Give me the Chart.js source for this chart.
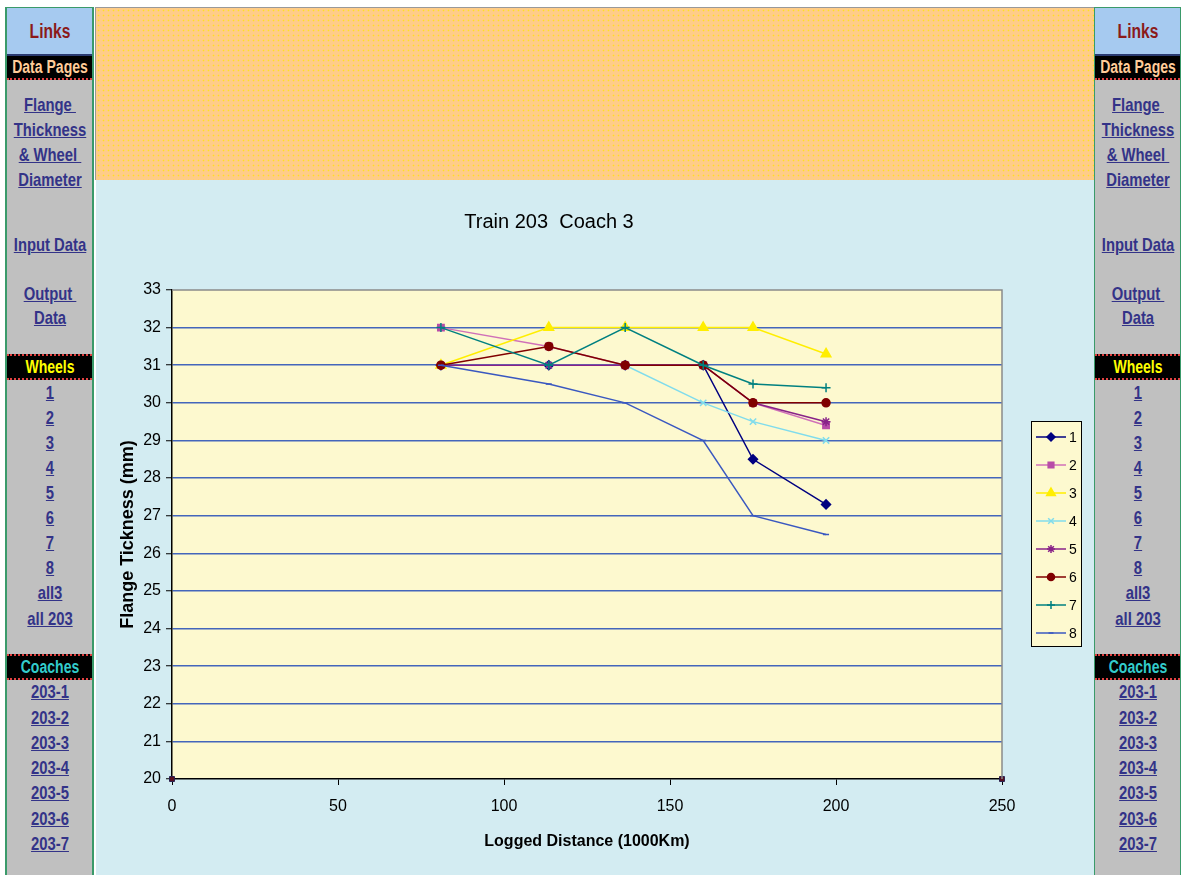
<!DOCTYPE html>
<html>
<head>
<meta charset="utf-8">
<title>Train 203 Coach 3</title>
<script src="https://cdn.jsdelivr.net/npm/chart.js@4.4.1/dist/chart.umd.min.js"></script>
<style>
  body { margin: 0; width: 1181px; height: 875px; overflow: hidden; background: #fff; position: relative;
         font-family: "Liberation Sans", Arial, sans-serif; }
  .side { position: absolute; top: 7px; width: 85px; height: 868px; background: #c0c0c0;
          border: 1px solid #3a9a6a; border-bottom: none; border-left-width: 2px; border-right-width: 2px; }
  #left { left: 5px; }
  #right { left: 1093px; }
  .links, .bar, .lnk { white-space: nowrap; }
  .links span, .bar span, .lnk span { position: absolute; left: 50%; display: inline-block;
         transform: translateX(-50%) scaleX(0.78); }
  .links { position: absolute; left: 0; top: 0; width: 100%; height: 46px; background: #a6caf0;
           border-bottom: 2px solid #2a3a70; color: #8b1a1a; font-weight: bold; font-size: 20px;
           line-height: 46px; }
  .bar { position: absolute; left: 0; width: 100%; height: 22px; background: #000; font-weight: bold;
         font-size: 18px; line-height: 22px; border-bottom: 2px dotted #e04040; }
  .bar.dt { border-top: 2px dotted #e04040; }
  .lnk { position: absolute; left: 0; width: 100%; height: 22px; font-weight: bold; font-size: 19px;
         color: #333388; line-height: 22px; }
  .lnk span { text-decoration: underline; }
  #top { position: absolute; left: 95px; top: 7px; width: 998px; height: 172px; border-top: 1px solid #999;
         border-left: 1px solid #999; background-color: #ffcc88;
         background-image: radial-gradient(#ffe020 0.7px, transparent 1.1px); background-size: 5px 5px; }
  #main { position: absolute; left: 96px; top: 180px; width: 998px; height: 695px; background: #d3ecf2; }
  #chart { position: absolute; left: 0; top: 1px; }
</style>
</head>
<body>
<div class="side" id="left">
  <div class="links"><span>Links</span></div>
  <div class="bar" style="top:48px;color:#ffcc99"><span>Data Pages</span></div>
  <div class="lnk" style="top:86px"><span>Flange&nbsp;</span></div>
  <div class="lnk" style="top:111px"><span>Thickness</span></div>
  <div class="lnk" style="top:136px"><span>&amp; Wheel&nbsp;</span></div>
  <div class="lnk" style="top:161px"><span>Diameter</span></div>
  <div class="lnk" style="top:226px"><span>Input Data</span></div>
  <div class="lnk" style="top:275px"><span>Output&nbsp;</span></div>
  <div class="lnk" style="top:299px"><span>Data</span></div>
  <div class="bar dt" style="top:346px;color:#ffff00"><span>Wheels</span></div>
  <div class="lnk" style="top:374px"><span>1</span></div>
  <div class="lnk" style="top:399px"><span>2</span></div>
  <div class="lnk" style="top:424px"><span>3</span></div>
  <div class="lnk" style="top:449px"><span>4</span></div>
  <div class="lnk" style="top:474px"><span>5</span></div>
  <div class="lnk" style="top:499px"><span>6</span></div>
  <div class="lnk" style="top:524px"><span>7</span></div>
  <div class="lnk" style="top:549px"><span>8</span></div>
  <div class="lnk" style="top:574px"><span>all3</span></div>
  <div class="lnk" style="top:600px"><span>all 203</span></div>
  <div class="bar dt" style="top:646px;color:#33cccc"><span>Coaches</span></div>
  <div class="lnk" style="top:673px"><span>203-1</span></div>
  <div class="lnk" style="top:699px"><span>203-2</span></div>
  <div class="lnk" style="top:724px"><span>203-3</span></div>
  <div class="lnk" style="top:749px"><span>203-4</span></div>
  <div class="lnk" style="top:774px"><span>203-5</span></div>
  <div class="lnk" style="top:800px"><span>203-6</span></div>
  <div class="lnk" style="top:825px"><span>203-7</span></div>
</div>
<div class="side" id="right"></div>
<div id="top"></div>
<div id="main"><canvas id="chart" width="998" height="694"></canvas></div>

<script>
document.getElementById('right').innerHTML = document.getElementById('left').innerHTML;

// Logged distance (1000Km) for each reading
const distance = [81, 113.5, 136.5, 160, 175, 197];

// Flange thickness (mm) per wheel
const wheel1 = [31, 31, 31, 31, 28.5, 27.3];
const wheel2 = [32, 31.5, 31, 31, 30, 29.4];
const wheel3 = [31, 32, 32, 32, 32, 31.3];
const wheel4 = [31, 31, 31, 30, 29.5, 29];
const wheel5 = [31, 31, 31, 31, 30, 29.5];
const wheel6 = [31, 31.5, 31, 31, 30, 30];
const wheel7 = [32, 31, 32, 31, 30.5, 30.4];
const wheel8 = [31, 30.5, 30, 29, 27, 26.5];
const wheelNames = ['1', '2', '3', '4', '5', '6', '7', '8'];

// the two corner markers sitting on the axis
const cornerX = [0, 250];
const cornerY = [20, 20];

const xMin = 0, xMax = 250, xStep = 50;
const yMin = 20, yMax = 33, yStep = 1;

const wheels = [wheel1, wheel2, wheel3, wheel4, wheel5, wheel6, wheel7, wheel8];

const looks = [
    { line: '#000080', fill: '#000080', style: 'rectRot', r: 4.5 },
    { line: '#d070b8', fill: '#b84ca8', style: 'rect', r: 4.5 },
    { line: '#ffee00', fill: '#ffee00', style: 'triangle', r: 5.5 },
    { line: '#80dcec', fill: '#80dcec', style: 'crossRot', r: 4.5 },
    { line: '#882288', fill: '#882288', style: 'star', r: 4.5 },
    { line: '#800000', fill: '#800000', style: 'circle', r: 4 },
    { line: '#008080', fill: '#008080', style: 'cross', r: 4.5 },
    { line: '#3a58c0', fill: '#3a58c0', style: 'line', r: 3 }
];

const sans = "'Liberation Sans', Arial, sans-serif";
Chart.defaults.font.family = sans;
Chart.defaults.color = '#000';

const datasets = wheels.map((vals, i) => ({
    label: wheelNames[i],
    data: vals.map((v, j) => ({ x: distance[j], y: v })),
    borderColor: looks[i].line,
    backgroundColor: looks[i].fill,
    pointBorderColor: looks[i].fill,
    pointBackgroundColor: looks[i].fill,
    pointStyle: looks[i].style,
    pointRadius: looks[i].r,
    pointBorderWidth: 1.5,
    borderWidth: 1.5,
    tension: 0,
    order: wheels.length - i   // later wheels drawn on top, like the sheet
}));

datasets.push({
    label: '',
    data: cornerX.map((x, j) => ({ x: x, y: cornerY[j] })),
    showLine: false,
    pointStyle: 'rect',
    pointRadius: 3.5,
    pointBackgroundColor: '#5a1020',
    pointBorderColor: '#2a2050',
    pointBorderWidth: 1,
    clip: false,
    order: 0,
    hideInLegend: true
});

// plot area fill, grey top/right frame and the boxed legend
const sheetLook = {
    id: 'sheetLook',
    beforeDraw(chart) {
        const { ctx, chartArea: a } = chart;
        ctx.save();
        ctx.fillStyle = '#fdf9cf';
        ctx.fillRect(a.left, a.top, a.right - a.left, a.bottom - a.top);
        ctx.restore();
    },
    afterDatasetsDraw(chart) {
        const { ctx, chartArea: a } = chart;
        ctx.save();
        ctx.strokeStyle = '#8a8a8a';
        ctx.lineWidth = 1.5;
        ctx.beginPath();
        ctx.moveTo(a.left, a.top);
        ctx.lineTo(a.right, a.top);
        ctx.lineTo(a.right, a.bottom);
        ctx.stroke();
        ctx.restore();
    },
    afterDraw(chart) {
        const { ctx, chartArea: a } = chart;
        const items = chart.data.datasets.filter(d => !d.hideInLegend);
        const bx = a.right + 29, by = a.top + 131, bw = 50, rowH = 28;
        const bh = items.length * rowH + 1;
        ctx.save();
        ctx.fillStyle = '#fdf9cf';
        ctx.fillRect(bx, by, bw, bh);
        ctx.strokeStyle = '#000';
        ctx.lineWidth = 1;
        ctx.strokeRect(bx + 0.5, by + 0.5, bw, bh);
        ctx.font = '14px ' + sans;
        ctx.textBaseline = 'middle';
        items.forEach((d, i) => {
            const y = by + 16 + i * rowH;
            ctx.strokeStyle = d.borderColor;
            ctx.lineWidth = 1.5;
            ctx.beginPath();
            ctx.moveTo(bx + 5, y);
            ctx.lineTo(bx + 35, y);
            ctx.stroke();
            ctx.fillStyle = d.pointBackgroundColor;
            ctx.strokeStyle = d.pointBorderColor;
            Chart.helpers.drawPoint(ctx, {
                pointStyle: d.pointStyle,
                radius: d.pointRadius - 0.5,
                rotation: 0,
                borderWidth: 1.5
            }, bx + 20, y);
            ctx.fillStyle = '#000';
            ctx.fillText(d.label, bx + 38, y + 1);
        });
        ctx.restore();
    }
};

new Chart(document.getElementById('chart'), {
    type: 'line',
    data: { datasets: datasets },
    options: {
        responsive: false,
        animation: false,
        devicePixelRatio: 1,
        layout: { padding: { left: 0, right: 92, top: 0, bottom: 0 } },
        plugins: {
            legend: { display: false },
            tooltip: { enabled: false },
            title: {
                display: true,
                text: 'Train 203  Coach 3',
                font: { size: 20, weight: 'normal' },
                color: '#000',
                padding: { top: 29, bottom: 56 }
            }
        },
        scales: {
            x: {
                type: 'linear',
                min: xMin,
                max: xMax,
                afterFit(scale) { scale.height = 96; },
                ticks: { stepSize: xStep, padding: 12, font: { size: 16 }, color: '#000', maxRotation: 0 },
                grid: { drawOnChartArea: false, drawTicks: true, tickLength: 6, tickColor: '#000', tickWidth: 1 },
                border: { color: '#000', width: 1.5 },
                title: {
                    display: true,
                    text: 'Logged Distance (1000Km)',
                    font: { size: 16, weight: 'bold' },
                    color: '#000',
                    padding: { top: 0, bottom: 24 }
                }
            },
            y: {
                type: 'linear',
                min: yMin,
                max: yMax,
                afterFit(scale) { scale.width = 76; },
                ticks: { stepSize: yStep, padding: 5, font: { size: 16 }, color: '#000' },
                grid: {
                    color: c => (c.tick.value === yMax || c.tick.value === yMin) ? 'rgba(0,0,0,0)' : '#4466bb',
                    lineWidth: 1.5,
                    tickLength: 6,
                    tickColor: '#000',
                    tickWidth: 1
                },
                border: { color: '#000', width: 1.5 },
                title: {
                    display: true,
                    text: 'Flange Tickness (mm)',
                    font: { size: 18, weight: 'bold' },
                    color: '#000',
                    padding: { top: 21, bottom: 0 }
                }
            }
        }
    },
    plugins: [sheetLook]
});
</script>
</body>
</html>
